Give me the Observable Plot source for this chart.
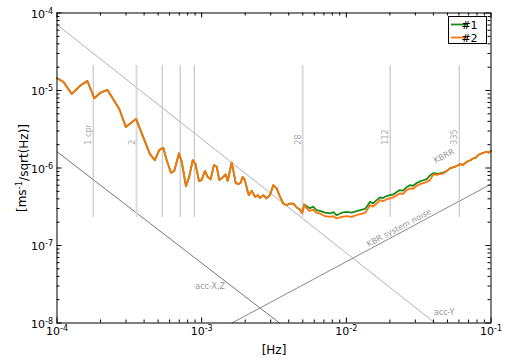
<!DOCTYPE html>
<html><head><meta charset="utf-8">
<script src="https://cdn.jsdelivr.net/npm/d3@7"></script>
<script src="https://cdn.jsdelivr.net/npm/@observablehq/plot@0.6"></script>
<style>body{margin:0;background:#fff;font-family:"DejaVu Sans",sans-serif}</style>
</head><body><div id="chart"></div>
<script>
// ---- data ----
const freq = [1.00e-4,1.106e-4,1.265e-4,1.442e-4,1.62e-4,1.81e-4,2.00e-4,2.23e-4,2.70e-4,2.99e-4,
3.52e-4,3.85e-4,4.39e-4,4.75e-4,5.09e-4,5.43e-4,5.73e-4,6.14e-4,6.47e-4,6.97e-4,
7.28e-4,7.79e-4,8.20e-4,8.67e-4,9.03e-4,9.58e-4,1.00e-3,1.054e-3,1.10e-3,1.153e-3,
1.216e-3,1.27e-3,1.324e-3,1.41e-3,1.466e-3,1.514e-3,1.612e-3,1.653e-3,1.717e-3,1.79e-3,
1.86e-3,1.92e-3,1.99e-3,2.07e-3,2.12e-3,2.22e-3,2.34e-3,2.44e-3,2.53e-3,2.67e-3,
2.81e-3,2.96e-3,3.13e-3,3.30e-3,3.48e-3,3.67e-3,3.87e-3,4.07e-3,4.30e-3,4.54e-3,
4.78e-3,4.95e-3,5.12e-3,5.32e-3,5.60e-3,5.90e-3,6.23e-3,6.57e-3,7.12e-3,7.71e-3,
8.12e-3,8.57e-3,9.28e-3,1.005e-2,1.088e-2,1.21e-2,1.345e-2,1.40e-2,1.456e-2,1.53e-2,
1.62e-2,1.71e-2,1.79e-2,1.90e-2,2.00e-2,2.11e-2,2.23e-2,2.34e-2,2.47e-2,2.61e-2,
2.75e-2,2.90e-2,3.06e-2,3.23e-2,3.40e-2,3.59e-2,3.78e-2,3.99e-2,4.21e-2,4.44e-2,
4.68e-2,4.93e-2,5.20e-2,5.64e-2,6.10e-2,6.43e-2,6.78e-2,7.14e-2,7.53e-2,7.87e-2,
8.15e-2,8.65e-2,9.32e-2,9.66e-2,1.00e-1];
// #2 (orange)
const amp2 = [1.44e-5,1.30e-5,9.04e-6,1.15e-5,1.33e-5,7.94e-6,9.4e-6,1.02e-5,5.73e-6,3.38e-6,
4.30e-6,2.81e-6,1.51e-6,1.26e-6,1.71e-6,1.82e-6,1.26e-6,8.67e-7,9.2e-7,1.55e-6,
1.20e-6,5.83e-7,7.69e-7,1.26e-6,1.15e-6,6.82e-7,6.97e-7,9.2e-7,7.69e-7,7.13e-7,
1.09e-6,1.04e-6,6.97e-7,7.69e-7,8.26e-7,6.82e-7,1.17e-6,9.4e-7,6.44e-7,6.19e-7,
6.44e-7,7.69e-7,6.97e-7,5.18e-7,4.46e-7,5.07e-7,4.24e-7,4.46e-7,4.12e-7,4.46e-7,
4.05e-7,4.46e-7,6.01e-7,5.45e-7,4.24e-7,3.48e-7,3.31e-7,3.48e-7,3.48e-7,3.09e-7,
2.91e-7,2.63e-7,3.38e-7,3.00e-7,2.79e-7,2.91e-7,2.63e-7,2.59e-7,2.39e-7,2.34e-7,
2.39e-7,2.23e-7,2.34e-7,2.39e-7,2.34e-7,2.51e-7,2.63e-7,2.94e-7,3.31e-7,3.17e-7,
3.48e-7,3.85e-7,3.73e-7,3.96e-7,4.05e-7,4.17e-7,4.46e-7,4.69e-7,4.64e-7,5.18e-7,
5.45e-7,5.38e-7,5.89e-7,6.19e-7,6.38e-7,6.63e-7,6.97e-7,8.26e-7,8.17e-7,8.34e-7,
8.51e-7,9.12e-7,9.88e-7,1.04e-6,1.12e-6,1.10e-6,1.20e-6,1.25e-6,1.33e-6,1.36e-6,
1.47e-6,1.55e-6,1.62e-6,1.58e-6,1.67e-6];
// #1 (green)
const amp1 = [1.44e-5,1.30e-5,9.04e-6,1.15e-5,1.33e-5,7.94e-6,9.4e-6,1.02e-5,5.73e-6,3.38e-6,
4.30e-6,2.81e-6,1.51e-6,1.26e-6,1.71e-6,1.82e-6,1.26e-6,8.67e-7,9.2e-7,1.55e-6,
1.20e-6,5.83e-7,7.69e-7,1.26e-6,1.15e-6,6.82e-7,6.97e-7,9.2e-7,7.69e-7,7.13e-7,
1.09e-6,1.04e-6,6.97e-7,7.69e-7,8.26e-7,6.82e-7,1.17e-6,9.4e-7,6.44e-7,6.19e-7,
6.44e-7,7.69e-7,6.97e-7,5.18e-7,4.46e-7,5.07e-7,4.24e-7,4.46e-7,4.12e-7,4.46e-7,
4.05e-7,4.46e-7,6.01e-7,5.45e-7,4.24e-7,3.48e-7,3.31e-7,3.48e-7,3.48e-7,3.09e-7,
2.91e-7,2.63e-7,3.38e-7,3.21e-7,3.03e-7,3.17e-7,2.85e-7,2.79e-7,2.65e-7,2.59e-7,
2.69e-7,2.46e-7,2.65e-7,2.71e-7,2.65e-7,2.81e-7,2.96e-7,3.25e-7,3.66e-7,3.50e-7,
3.85e-7,4.17e-7,4.10e-7,4.35e-7,4.46e-7,4.55e-7,4.90e-7,5.18e-7,5.10e-7,5.65e-7,
6.01e-7,5.90e-7,6.40e-7,6.71e-7,6.95e-7,7.20e-7,7.98e-7,8.59e-7,8.45e-7,8.50e-7,
8.73e-7,9.12e-7,9.88e-7,1.04e-6,1.12e-6,1.10e-6,1.20e-6,1.25e-6,1.33e-6,1.36e-6,
1.47e-6,1.55e-6,1.62e-6,1.58e-6,1.67e-6];

// reference noise lines (end points)
const accXZf = [1e-4, 3.45e-3], accXZa = [1.62e-6, 1e-8];
const accYf  = [1e-4, 4.1e-2],  accYa  = [7.06e-5, 1e-8];
const kbrNf  = [1.62e-3, 1e-1], kbrNa  = [1e-8, 6.19e-7];

// orbital harmonics (cpr) markers
const cprFreq   = [1.78e-4, 3.55e-4, 5.34e-4, 7.1e-4, 8.9e-4, 4.99e-3, 2.01e-2, 6.03e-2];
const cprLabels = ["1 cpr", "2", "", "", "", "28", "112", "335"];
const cprLow = 2.3e-7, cprHigh = 2.1e-5, cprLabelY = 2.0e-6;

// annotations
const annText = ["acc-X,Z", "acc-Y", "KBR system noise", "KBRR"];
const annF    = [1.45e-3, 4.03e-2, 2.31e-2, 4.73e-2];
const annA    = [2.96e-8, 1.36e-8, 1.69e-7, 1.43e-6];

// ticks
const xMajor = [1e-4, 1e-3, 1e-2, 1e-1];
const xMajorLabels = ["10^-4", "10^-3", "10^-2", "10^-1"];
const yMajor = [1e-8, 1e-7, 1e-6, 1e-5, 1e-4];
const yMajorLabels = ["10^-8", "10^-7", "10^-6", "10^-5", "10^-4"];
const minorOf = m => m.slice(0, -1).flatMap(v => [2,3,4,5,6,7,8,9].map(k => k * v));
const xMinor = minorOf(xMajor), yMinor = minorOf(yMajor);

const series1 = freq.map((f, i) => ({f, a: amp1[i]}));
const series2 = freq.map((f, i) => ({f, a: amp2[i]}));
const pairs = (fs, as) => fs.map((f, i) => ({f, a: as[i]}));
const cpr = cprFreq.map((f, i) => ({f, label: cprLabels[i], light: cprLabels[i] === "2" || cprLabels[i] === "28"}));
const ann = annText.map((t, i) => ({t, f: annF[i], a: annA[i]}));

const ml = 56.5, mr = 19.5, mt = 12.5, mb = 37.5;
const ph = 360 - mt - mb, pw = 510 - ml - mr;
const GREEN = "#1a8a1a", ORANGE = "#ff7308";

const chart = Plot.plot({
  width: 510, height: 360,
  marginLeft: ml, marginRight: mr, marginTop: mt, marginBottom: mb,
  style: {fontFamily: "DejaVu Sans", fontSize: "11px", background: "#fff", color: "#000", overflow: "visible"},
  x: {type: "log", domain: [1e-4, 1e-1]},
  y: {type: "log", domain: [1e-8, 1e-4]},
  marks: [
    Plot.line(pairs(accYf, accYa), {x: "f", y: "a", stroke: "#a8a8a8", strokeWidth: 0.9}),
    Plot.line(pairs(accXZf, accXZa), {x: "f", y: "a", stroke: "#777", strokeWidth: 1}),
    Plot.line(pairs(kbrNf, kbrNa), {x: "f", y: "a", stroke: "#888", strokeWidth: 1}),
    Plot.ruleX(cpr, {x: "f", y1: cprLow, y2: cprHigh, stroke: d => d.light ? "#dadada" : "#bcbcbc", strokeWidth: d => d.light ? 2 : 1}),
    Plot.text(cpr, {x: "f", y: cprLabelY, text: "label", rotate: -90, textAnchor: "start", dx: -4.5, fill: "#aaa", fontSize: 8}),
    Plot.text(ann.slice(0, 1), {x: "f", y: "a", text: "t", textAnchor: "end", fill: "#999", fontSize: 8}),
    Plot.text(ann.slice(1, 2), {x: "f", y: "a", text: "t", textAnchor: "start", fill: "#999", fontSize: 8}),
    Plot.text(ann.slice(2, 4), {x: "f", y: "a", text: "t", rotate: -28, fill: "#999", fontSize: 8}),
    Plot.line(series1, {x: "f", y: "a", stroke: GREEN, strokeWidth: 1.8}),
    Plot.line(series2, {x: "f", y: "a", stroke: ORANGE, strokeWidth: 1.8}),
    // inward ticks
    Plot.tickX(xMajor, {x: d => d, insetTop: ph - 5, stroke: "#000"}),
    Plot.tickX(xMinor, {x: d => d, insetTop: ph - 3, stroke: "#000"}),
    Plot.tickX(xMajor, {x: d => d, insetBottom: ph - 5, stroke: "#000"}),
    Plot.tickX(xMinor, {x: d => d, insetBottom: ph - 3, stroke: "#000"}),
    Plot.tickY(yMajor, {y: d => d, insetRight: pw - 5, stroke: "#000"}),
    Plot.tickY(yMinor, {y: d => d, insetRight: pw - 3, stroke: "#000"}),
    Plot.tickY(yMajor, {y: d => d, insetLeft: pw - 5, stroke: "#000"}),
    Plot.tickY(yMinor, {y: d => d, insetLeft: pw - 3, stroke: "#000"}),
    Plot.axisX({ticks: xMajor, tickSize: 0, tickPadding: 4, label: null, fontSize: 11,
      tickFormat: d => xMajorLabels[xMajor.indexOf(d)]}),
    Plot.axisY({ticks: yMajor, tickSize: 0, tickPadding: 4, label: null, fontSize: 11, dy: 1,
      tickFormat: d => yMajorLabels[yMajor.indexOf(d)]}),
    Plot.frame({stroke: "#000", strokeWidth: 1})
  ]
});
document.getElementById("chart").appendChild(chart);

const NS = "http://www.w3.org/2000/svg";
// superscript exponents in tick labels
chart.querySelectorAll('g[aria-label$="tick label"] text').forEach(t => {
  const s = t.textContent;
  if (!s.includes("^")) return;
  const [b, e] = s.split("^");
  t.textContent = "";
  const t1 = document.createElementNS(NS, "tspan"); t1.textContent = b;
  const t2 = document.createElementNS(NS, "tspan"); t2.textContent = e;
  t2.setAttribute("dy", "-0.45em"); t2.setAttribute("font-size", "8px");
  t.appendChild(t1); t.appendChild(t2);
});

const svg = d3.select(chart);
const f = "DejaVu Sans";
svg.append("text").attr("x", 274).attr("y", 353.5).attr("text-anchor", "middle")
  .attr("font-family", f).attr("font-size", 12).attr("fill", "#000").text("[Hz]");
const yl = svg.append("text").attr("transform", "translate(26,168) rotate(-90)").attr("text-anchor", "middle")
  .attr("font-family", f).attr("font-size", 12).attr("fill", "#000");
yl.append("tspan").text("[ms");
yl.append("tspan").attr("dy", "-0.45em").attr("font-size", 8.5).text("-1");
yl.append("tspan").attr("dy", "0.45em").text("/sqrt(Hz)]");

// legend
const lg = svg.append("g").attr("font-family", f).attr("font-size", 11);
lg.append("rect").attr("x", 448.5).attr("y", 16.5).attr("width", 38).attr("height", 27)
  .attr("fill", "#fff").attr("stroke", "#000");
[["#1", GREEN, 24.5], ["#2", ORANGE, 37.5]].forEach(([lab, col, yy]) => {
  lg.append("line").attr("x1", 451).attr("x2", 468).attr("y1", yy).attr("y2", yy)
    .attr("stroke", col).attr("stroke-width", 1.8);
  lg.append("text").attr("x", 469.5).attr("y", yy + 4).attr("fill", "#000").text(lab);
});
</script>
</body></html>
